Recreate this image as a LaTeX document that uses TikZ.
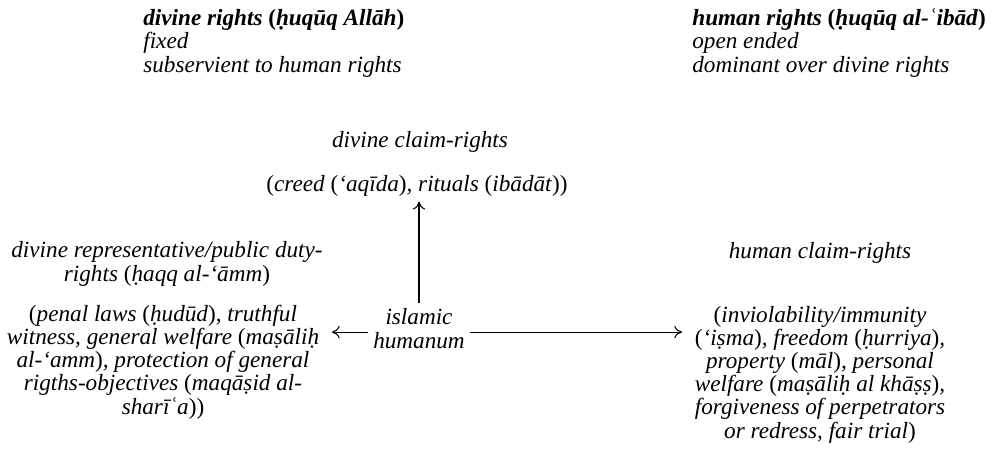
\documentclass[tikz,border=0pt]{standalone}
\usepackage{fontspec}
\setmainfont{Liberation Serif}
\usetikzlibrary{arrows.meta}
\newcommand{\op}{\textup{(}}
\newcommand{\cp}{\textup{)}}
\tikzset{
  lbl/.style={font=\itshape\fontsize{13.2}{13.15}\selectfont, align=center, inner sep=3pt, anchor=base},
  head/.style={font=\itshape\fontsize{13.2}{13.15}\selectfont, align=left, inner sep=0pt, anchor=base west},
  arr/.style={line width=0.6pt, -{To[length=4.5pt,width=7pt]}},
}
\begin{document}
\begin{tikzpicture}[x=0.02cm, y=-0.02cm]
  \useasboundingbox (0,0) rectangle (1000,464);

  \node[head] (divine) at (143,72) {\textbf{divine rights \op ḥuqūq Allāh\cp}\\fixed\\subservient to human rights};
  \node[head] (human) at (692,72) {\textbf{human rights \op ḥuqūq al-ʿibād\cp}\\open ended\\dominant over divine rights};

  \node[lbl] (claim) at (420,147) {divine claim-rights};
  \node[lbl] (creed) at (417,191) {\op creed \op‘aqīda\cp, rituals \op ibādāt\cp\cp};

  \node[lbl] (duty) at (167,281) {divine representative/public duty-\\rights \op ḥaqq al-‘āmm\cp};
  \node[lbl] (public) at (163,414) {\op penal laws \op ḥudūd\cp, truthful\\witness, general welfare \op maṣāliḥ\\al-‘amm\cp, protection of general\\rigths-objectives \op maqāṣid al-\\sharīʿa\cp\cp};

  \node[lbl] (hum) at (419,348) {islamic\\humanum};

  \node[lbl] (hclaim) at (820,258) {human claim-rights};
  \node[lbl] (private) at (820,438) {\op inviolability/immunity\\\op ‘iṣma\cp, freedom \op ḥurriya\cp,\\property \op māl\cp, personal\\welfare \op maṣāliḥ al khāṣṣ\cp,\\forgiveness of perpetrators\\or redress, fair trial\cp};

  \draw[arr] (hum.north) -- (hum.north |- creed.south);
  \draw[arr, shorten >=4pt] ([yshift=-2pt]hum.west) -- ([yshift=-2pt]hum.west -| public.east);
  \draw[arr, shorten >=4pt] ([yshift=-2pt]hum.east) -- ([yshift=-2pt]hum.east -| private.west);
\end{tikzpicture}
\end{document}
